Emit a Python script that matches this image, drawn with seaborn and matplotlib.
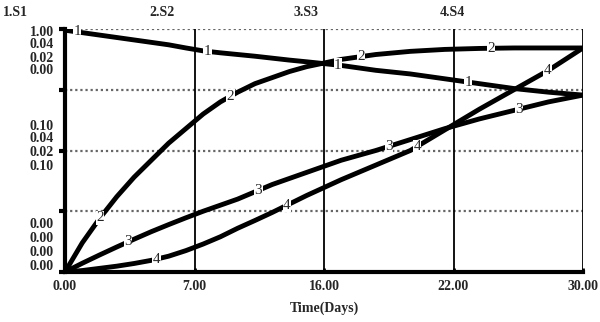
import numpy as np
import pandas as pd
import matplotlib
matplotlib.use("Agg")
import matplotlib.pyplot as plt
import seaborn as sns

# ==========================================
# dados (tempo em escala do eixo)
# ==========================================
tempo = [0, 1, 2, 3, 4, 5, 6, 7, 8, 9, 10, 11, 12, 13, 14,
         16, 18, 20, 22, 24, 26, 28, 30]
s1 = [0.995, 0.985, 0.975, 0.965, 0.955, 0.945, 0.935, 0.922, 0.91, 0.902, 0.895, 0.888, 0.88, 0.872, 0.865,
      0.85, 0.83, 0.815, 0.795, 0.775, 0.755, 0.74, 0.728]
s2 = [0.0, 0.12, 0.22, 0.31, 0.39, 0.46, 0.53, 0.59, 0.65, 0.70, 0.74, 0.775, 0.80, 0.825, 0.845,
      0.875, 0.895, 0.908, 0.916, 0.92, 0.922, 0.922, 0.922]
s3 = [0.0, 0.036, 0.07, 0.103, 0.135, 0.166, 0.195, 0.223, 0.25, 0.275, 0.30, 0.33, 0.36, 0.385, 0.41,
      0.46, 0.50, 0.545, 0.59, 0.63, 0.665, 0.70, 0.728]
s4 = [0.0, 0.006, 0.015, 0.024, 0.035, 0.048, 0.065, 0.088, 0.115, 0.145, 0.18, 0.212, 0.245, 0.28, 0.315,
      0.38, 0.44, 0.50, 0.585, 0.67, 0.75, 0.83, 0.922]

series_nomes = ["1.S1", "2.S2", "3.S3", "4.S4"]
series_marcas = ["1", "2", "3", "4"]

xticks_pos = [0, 7.5, 15, 22.5, 30]
xticks_lbl = ["0.00", "7.00", "16.00", "22.00", "30.00"]

ygrid = [0.25, 0.5, 0.75, 1.0]
ylbl_topo = ["1.00", "0.04", "0.02", "0.00"]
ylbl_meio = ["0.10", "0.04", "0.02", "0.10"]
ylbl_base = ["0.00", "0.00", "0.00", "0.00"]

# ==========================================
# estilo
# ==========================================
sns.set_theme(style="white")
plt.rcParams['font.family'] = ['Liberation Serif', 'DejaVu Serif']

fig = plt.figure(figsize=(6, 3.22), dpi=100)
ax = fig.add_axes([65 / 600, 1 - 272 / 322, 518 / 600, 243 / 322])

# grade
for g in ygrid:
    ax.axhline(g, color='#666666', lw=1.6, ls=(0, (1, 1.3)), zorder=1)
for xv in xticks_pos[1:]:
    ax.axvline(xv, color='black', lw=1.3, zorder=1)

# curvas
dados = [s1, s2, s3, s4]
inicio_marca = [0.7, 2.03, 3.65, 5.3]
for serie, marca, x0 in zip(dados, series_marcas, inicio_marca):
    sns.lineplot(x=tempo, y=serie, color='black', lw=3.5, ax=ax, zorder=3,
                 solid_capstyle='butt', solid_joinstyle='round')
    for k in range(4):
        xm = x0 + 7.55 * k
        ym = np.interp(xm, tempo, serie)
        ax.text(xm, ym, marca, ha='center', va='center', fontsize=11,
                zorder=4, bbox=dict(facecolor='white', edgecolor='none', pad=0.2))

ax.set_xlim(0, 30)
ax.set_ylim(0, 1)
ax.set_xticks(xticks_pos)
ax.set_xticklabels(xticks_lbl, fontsize=10, fontweight='bold')
ax.set_yticks([0, 0.25, 0.5, 0.75, 1.0])
ax.set_yticklabels([])
ax.tick_params(axis='y', direction='out', length=4, width=3, color='black', left=True)
ax.tick_params(axis='x', direction='in', length=3, width=2, color='black', bottom=True, pad=6)
ax.set_xlabel("Time(Days)", fontsize=10, fontweight='bold', labelpad=6)
ax.set_ylabel("")

for lado in ['left', 'bottom']:
    ax.spines[lado].set_visible(True)
    ax.spines[lado].set_color('black')
    ax.spines[lado].set_linewidth(3)
ax.spines['top'].set_visible(False)
ax.spines['right'].set_visible(False)

# rótulos empilhados do eixo y
for grupo, ys in [(ylbl_topo, [33, 45, 58, 71]),
                  (ylbl_meio, [126, 139, 152, 166]),
                  (ylbl_base, [225, 239, 253, 267])]:
    for txt, yp in zip(grupo, ys):
        fig.text(54 / 600, 1 - yp / 322, txt, ha='right', va='center',
                 fontsize=10, fontweight='bold')

# nomes das séries no topo
for nome, xp in zip(series_nomes, [15, 162, 306, 452]):
    fig.text(xp / 600, 1 - 13 / 322, nome, ha='center', va='center',
             fontsize=10, fontweight='bold')

fig.savefig("out.png", dpi=100, facecolor='white')
plt.close()
